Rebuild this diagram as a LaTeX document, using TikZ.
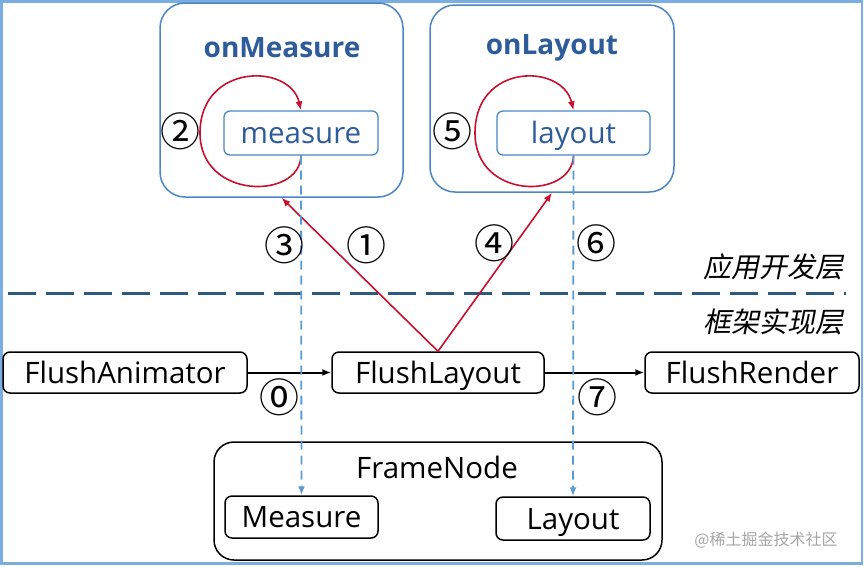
\documentclass[tikz,border=0pt]{standalone}
\usepackage{fontspec}
\setmainfont{Open Sans}
\newfontfamily\cjkit[FakeSlant=0.2]{Noto Sans CJK SC}
\newfontfamily\cjk{Noto Sans CJK SC}
\newfontfamily\circfont{Noto Sans CJK SC}
\usetikzlibrary{arrows.meta}
\definecolor{frameblue}{HTML}{7AADE0}
\definecolor{boxblue}{HTML}{4A86C5}
\definecolor{titleblue}{HTML}{2E5C9A}
\definecolor{loopred}{HTML}{C8102E}
\definecolor{dashblue}{HTML}{5B9BD5}
\definecolor{layerblue}{HTML}{2F5A80}
\tikzset{
  bigbox/.style={draw=boxblue, line width=1.5pt, rounded corners=25pt, inner sep=0pt},
  innerbox/.style={draw=boxblue, line width=1.3pt, rounded corners=6pt, inner sep=0pt, text=titleblue, font=\fontsize{29.5}{32}\selectfont, text height=21pt, text depth=0pt},
  blackbox/.style={draw=black, line width=1.5pt, rounded corners=7pt, inner sep=0pt, font=\fontsize{29.5}{32}\selectfont, text height=21pt, text depth=0pt},
  titletext/.style={text=titleblue, font=\bfseries\fontsize{28}{32}\selectfont},
  circnum/.style={font=\circfont\fontsize{40}{42}\selectfont, inner sep=0pt},
  layertext/.style={font=\cjkit\fontsize{28}{32}\selectfont},
  redarrow/.style={draw=loopred, line width=1.6pt, -{Latex[length=9pt,width=7pt]}},
  bluedash/.style={draw=dashblue, line width=1.8pt, dash pattern=on 9pt off 6pt, -{Latex[length=9pt,width=7pt]}},
  blackarrow/.style={draw=black, line width=2pt, -{Latex[length=9pt,width=7pt]}}
}
\begin{document}
\begin{tikzpicture}[x=1pt,y=-1pt]
\useasboundingbox (0,0) rectangle (864,566);
\draw[frameblue, line width=2.5pt] (1.5,1.5) rectangle (862,563.5);

% application layer
\node[bigbox, minimum width=243pt, minimum height=194pt] (onM) at (281.5,100) {};
\node[bigbox, minimum width=244pt, minimum height=187pt] (onL) at (552,98.5) {};
\node[titletext] (onMt) at (282,48) {onMeasure};
\node[titletext] (onLt) at (552,48) {onLayout};
\node[innerbox, minimum width=154pt, minimum height=44pt] (meas) at (301,133) {measure};
\node[innerbox, minimum width=153pt, minimum height=44pt] (lay) at (573.5,133) {layout};

% loops
\draw[redarrow] (meas.south) .. controls (300,200) and (200,200) .. (200,133)
   .. controls (200,63) and (290,63) .. (meas.north);
\draw[redarrow] (lay.south) .. controls (572,200) and (475,200) .. (475,133)
   .. controls (475,63) and (562,63) .. (lay.north);
\node[circnum] (n2) at (180,131) {②};
\node[circnum] (n5) at (452,131) {⑤};

% layer separator
\coordinate (sepL) at (8,293);
\coordinate (sepR) at (846,293);
\draw[layerblue, line width=3pt, dash pattern=on 28pt off 10pt] (sepL) -- (sepR);
\node[layertext] (app) at (773,267) {应用开发层};
\node[layertext] (fw) at (773,322) {框架实现层};

% framework layer
\node[blackbox, minimum width=244pt, minimum height=41pt] (fa) at (125,372.5) {FlushAnimator};
\node[blackbox, minimum width=212pt, minimum height=41pt] (fl) at (438,372.5) {FlushLayout};
\node[blackbox, minimum width=214pt, minimum height=41pt] (fr) at (752,372.5) {FlushRender};
\draw[blackarrow] (fa) -- (fl);
\draw[blackarrow] (fl) -- (fr);
\node[circnum] (n0) at (279,397) {⓪};
\node[circnum] (n7) at (597,397) {⑦};

\node[draw=black, line width=1.5pt, rounded corners=20pt, minimum width=448pt, minimum height=118pt, inner sep=0pt] (frame) at (438,501) {};
\node[font=\fontsize{29.5}{32}\selectfont] (framet) at (437,467) {FrameNode};
\node[blackbox, minimum width=153pt, minimum height=42pt] (M) at (301.5,517) {Measure};
\node[blackbox, minimum width=154pt, minimum height=43pt] (L) at (573,518.5) {Layout};

% red arrows
\draw[redarrow] (fl.north) -- (onM.south);
\draw[redarrow] (fl.north) -- (onL.south);
\node[circnum] (n1) at (366,245) {①};
\node[circnum] (n4) at (494,243) {④};

% dashed calls
\draw[bluedash] (meas.south) -- (M.north);
\draw[bluedash] (lay.south) -- (L.north);
\node[circnum] (n3) at (284,245) {③};
\node[circnum] (n6) at (596,243) {⑥};

\node[text=gray!70, font=\cjk\fontsize{16}{18}\selectfont] (wm) at (766,540) {@稀土掘金技术社区};
\end{tikzpicture}
\end{document}
